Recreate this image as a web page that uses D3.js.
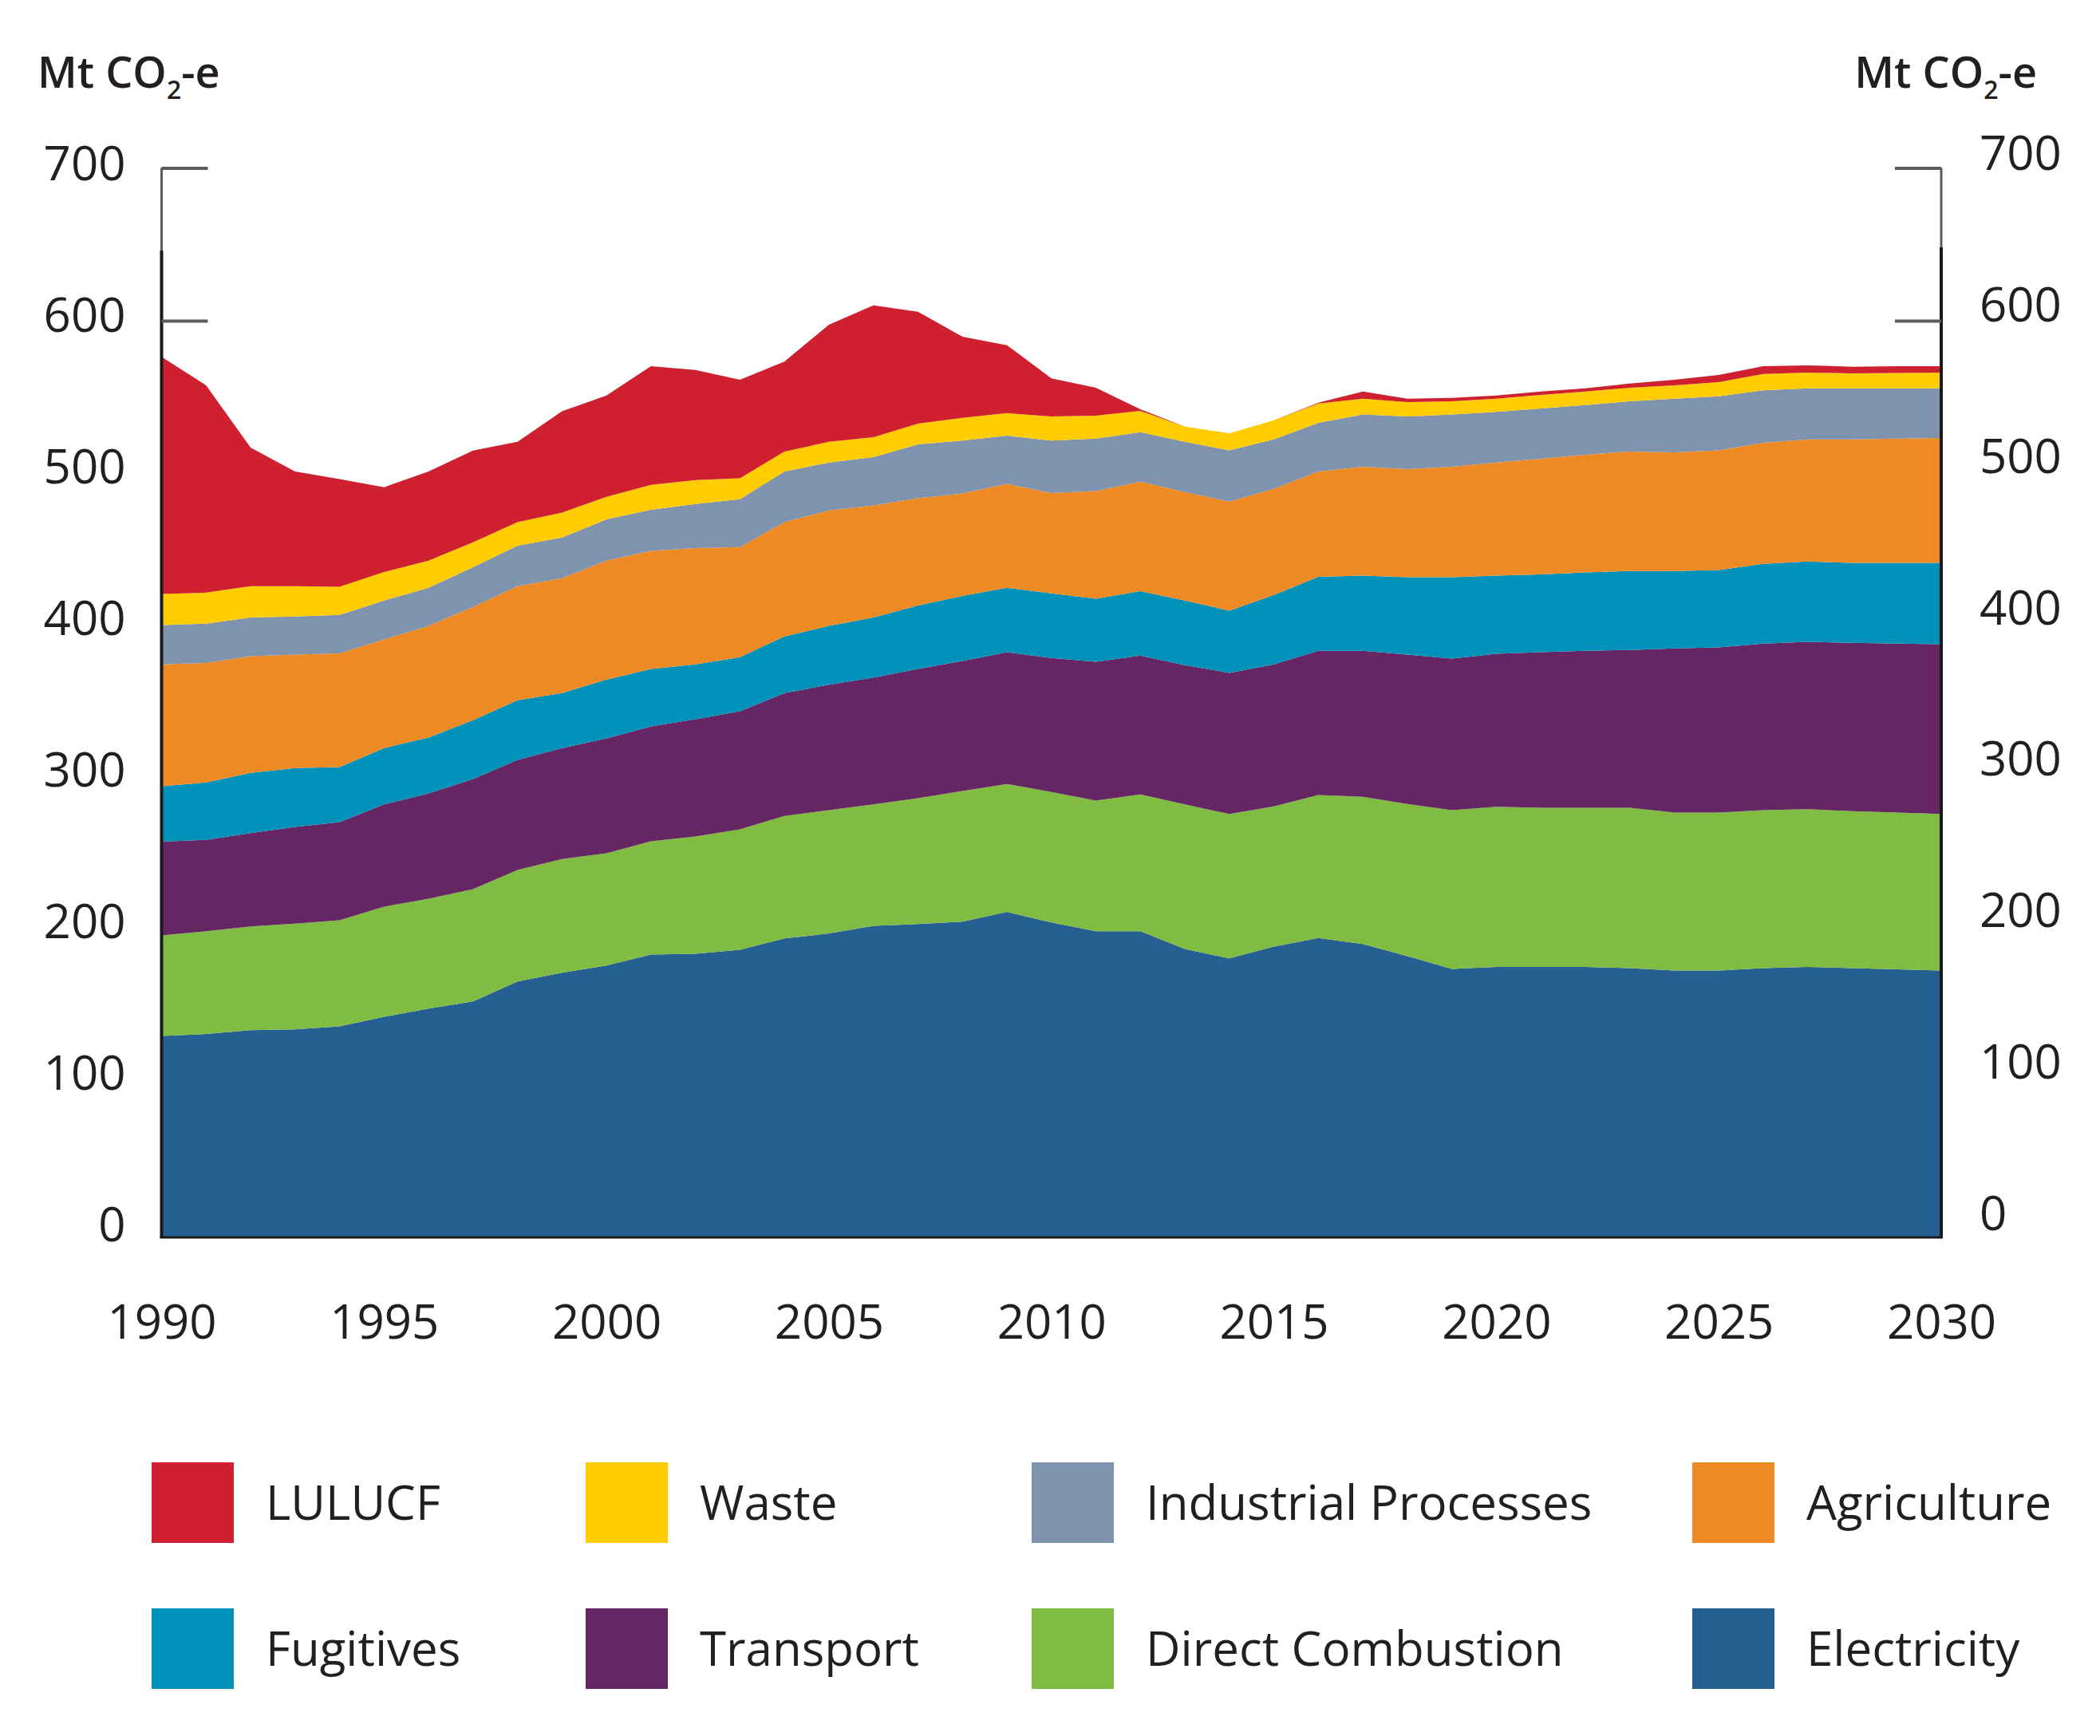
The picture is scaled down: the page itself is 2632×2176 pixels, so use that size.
<!DOCTYPE html>
<html lang="en">
<head>
<meta charset="utf-8">
<title>Emissions by sector, 1990-2030</title>
<script src="https://cdn.jsdelivr.net/npm/d3@7"></script>
<style>
body { margin: 0; background: #fff; }
text { font-family: "Open Sans", "Noto Sans", sans-serif; fill: #231f20; }
</style>
</head>
<body>
<div id="chart"></div>
<script>
// years on the x axis
var years = [1990,1991,1992,1993,1994,1995,1996,1997,1998,1999,
             2000,2001,2002,2003,2004,2005,2006,2007,2008,2009,
             2010,2011,2012,2013,2014,2015,2016,2017,2018,2019,
             2020,2021,2022,2023,2024,2025,2026,2027,2028,2029,2030];

// sector values, Mt CO2-e (stacked bottom to top)
var electricity = [131.9,133.1,135.6,136.2,138.1,144.4,149.7,154.4,167.5,173.2,177.9,185.1,185.7,188.2,195.7,198.9,203.9,205.1,206.7,213,206.1,200.4,200.4,188.8,182.6,190.4,196,192,184.1,175.7,177,177,177,176.3,174.7,174.7,176.3,177,176.3,175.4,174.7];
var directCombustion = [65.7,67.3,67.9,69.2,69.5,72,72,73.6,73,74.5,73.6,74.2,76.7,78.9,80.2,80.7,79.5,82.4,85.5,83.8,85.4,85.5,89.6,94.6,94.5,91.7,93.6,96.4,99.6,103.9,104.8,104.2,104.2,104.9,103.4,103.4,103.3,103.3,102.7,102.7,102.4];
var transport = [61.4,59.8,61.1,63.3,64.2,67,68.9,72,72,72.6,75.1,75.1,76.7,77.3,80.4,82.1,83,84.5,85.1,86.2,87.7,90.8,90.8,91.1,92.4,93,94.3,95.5,97.7,99.3,100.2,101.8,102.7,103.3,107.4,108,109,109.5,110.2,110.5,111.2];
var fugitives = [36.3,37.6,39.4,38.5,36,36.9,36.6,38.5,39.1,36,38.5,37.6,36,35.4,37,38.5,39.4,41.6,42.6,42.2,42.3,41.3,42.2,42.3,40.7,45.4,48.5,49.2,50.7,53.2,51.1,51,51.3,51.7,50.7,50.7,52.3,52.6,52.3,52.9,53.2];
var agriculture = [79.8,78.2,76.4,74.2,74.5,71.1,73,74.2,74.6,75.2,77.9,77.3,76.1,72,74.8,75.7,73.3,70.2,67,68,65.7,70.5,71.7,71,71.4,69.5,68.9,71.3,70.8,72.3,74.1,75.7,77.1,78.2,77.6,78.3,79.2,79.9,80.8,81.4,81.7];
var industrial = [25.7,25.7,25.4,25,25.1,25.4,25,26,26.6,26.6,27,26.9,28.8,31.3,33.2,31.3,31.6,35.3,34.7,31.6,34.4,34.4,32.3,32.9,33.5,32.3,31.9,34.2,34.4,34.2,33.2,32.9,32.5,32.9,35.1,35.4,34.4,33.5,33.5,32.9,32.6];
var waste = [20.3,20.3,20.4,19.8,18.4,18.7,17.8,16.3,15.3,16.3,14.7,16.3,15.7,13.8,13.1,13.5,13.1,13.5,14.8,14.7,15.7,15,14,10,11.2,12.5,12.6,10.3,9.4,8.7,8.5,8.8,8.8,8.8,8.8,9.3,10.7,10.3,9.7,10,10.3];
var lulucf = [155.3,135.7,90.8,75.1,70.5,55.5,58.3,60,52.6,66.3,66.3,77.7,72,64.5,58.9,76.7,86.2,73.3,53.2,44.5,25,18.2,1,0,0,0,0.5,4.7,2.2,2.2,2.2,2.2,2.2,2.8,3.7,4.7,5,4.7,4.4,4.4,4.1];

// series names, bottom to top
var sectors = ["Electricity","Direct Combustion","Transport","Fugitives","Agriculture","Industrial Processes","Waste","LULUCF"];
var sectorValues = [electricity, directCombustion, transport, fugitives, agriculture, industrial, waste, lulucf];
var sectorColors = ["#265f91","#80bc42","#662663","#0091bb","#ee8a23","#7f93ae","#ffcc00","#ce202f"];

// legend order as printed (two rows of four)
var legendOrder = ["LULUCF","Waste","Industrial Processes","Agriculture",
                   "Fugitives","Transport","Direct Combustion","Electricity"];

var yTicks = [0,100,200,300,400,500,600,700];
var xTicks = [1990,1995,2000,2005,2010,2015,2020,2025,2030];

var W = 2632, H = 2176;
var svg = d3.select("#chart").append("svg")
    .attr("width", W)
    .attr("height", H);

var x = d3.scaleLinear().domain([1990, 2030]).range([202.5, 2433]);
var y = d3.scaleLinear().domain([0, 700]).range([1551, 210.5]);

// build rows for the stack
var rows = years.map(function(yr, i) {
  var r = {year: yr};
  sectors.forEach(function(s, k) { r[s] = sectorValues[k][i]; });
  return r;
});
var stacked = d3.stack().keys(sectors)(rows);

var area = d3.area()
    .x(function(d) { return x(d.data.year); })
    .y0(function(d) { return y(d[0]); })
    .y1(function(d) { return y(d[1]); });

svg.append("g").selectAll("path")
  .data(stacked)
  .enter().append("path")
    .attr("d", area)
    .attr("fill", function(d, i) { return sectorColors[i]; });

// axis lines: light grey at the very top, black below
function axisLine(xp, yBreak) {
  svg.append("line")
    .attr("x1", xp).attr("x2", xp)
    .attr("y1", y(700)).attr("y2", y(yBreak))
    .attr("stroke", "#5d5d5d").attr("stroke-width", 3);
  svg.append("line")
    .attr("x1", xp).attr("x2", xp)
    .attr("y1", y(yBreak)).attr("y2", y(0) + 1)
    .attr("stroke", "#1a1a1a").attr("stroke-width", 4);
}
axisLine(x(1990), 646);
axisLine(x(2030), 648);

svg.append("line")
  .attr("x1", x(1990) - 2).attr("x2", x(2030) + 2)
  .attr("y1", y(0)).attr("y2", y(0))
  .attr("stroke", "#1a1a1a").attr("stroke-width", 3);

// inward tick marks at 600 and 700
var tickL = svg.append("g")
  .attr("transform", "translate(" + x(1990) + ",0)")
  .call(d3.axisLeft(y).tickValues([600, 700]).tickSize(-58).tickFormat(""));
var tickR = svg.append("g")
  .attr("transform", "translate(" + x(2030) + ",0)")
  .call(d3.axisRight(y).tickValues([600, 700]).tickSize(-58).tickFormat(""));
[tickL, tickR].forEach(function(g) {
  g.select(".domain").remove();
  g.selectAll(".tick line").attr("stroke", "#5d5d5d").attr("stroke-width", 4);
});

// y labels
var labL = svg.append("g")
  .attr("transform", "translate(" + x(1990) + ",0)")
  .call(d3.axisLeft(y).tickValues(yTicks).tickSize(0).tickPadding(45));
var labR = svg.append("g")
  .attr("transform", "translate(" + x(2030) + ",0)")
  .call(d3.axisRight(y).tickValues(yTicks).tickSize(0).tickPadding(48));
labL.selectAll(".tick text").attr("y", function(d) { return -4 - (700 - d) / 700 * 11; });
labR.selectAll(".tick text").attr("y", function(d) { return -17 - (700 - d) / 700 * 12; });

// x labels
var labX = svg.append("g")
  .attr("transform", "translate(0," + y(0) + ")")
  .call(d3.axisBottom(x).tickValues(xTicks).tickFormat(d3.format("d")).tickSize(0));
labX.selectAll(".tick text").attr("y", 127).attr("dy", 0);

[labL, labR, labX].forEach(function(g) {
  g.select(".domain").remove();
  g.selectAll(".tick text")
    .style("font-family", "'Open Sans', 'Noto Sans', sans-serif")
    .style("font-size", "60px")
    .attr("fill", "#231f20");
});

// unit titles
function unitTitle(xp, anchor) {
  var t = svg.append("text")
    .attr("x", xp).attr("y", 110)
    .attr("text-anchor", anchor)
    .style("font-size", "54px")
    .style("font-weight", 600);
  t.append("tspan").text("Mt CO");
  t.append("tspan").attr("dy", 14).style("font-size", "32px").text("2");
  t.append("tspan").attr("dy", -14).text("-e");
}
unitTitle(47, "start");
unitTitle(2553, "end");

// legend
var colX = [190, 734, 1293, 2121], rowY = [1833, 2016];
var legend = svg.append("g").selectAll("g")
  .data(legendOrder)
  .enter().append("g")
    .attr("transform", function(d, i) {
      return "translate(" + colX[i % 4] + "," + rowY[Math.floor(i / 4)] + ")";
    });
legend.append("rect")
  .attr("width", 103).attr("height", 101)
  .attr("fill", function(d) { return sectorColors[sectors.indexOf(d)]; });
legend.append("text")
  .attr("x", 143).attr("y", 72)
  .style("font-size", "60px")
  .text(function(d) { return d; });
</script>
</body>
</html>
